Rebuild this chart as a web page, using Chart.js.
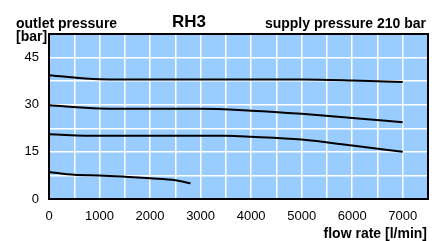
<!DOCTYPE html>
<html>
<head>
    <script src="https://cdn.jsdelivr.net/npm/chart.js@4.4.1/dist/chart.umd.min.js"></script>
    <style>
        body { margin: 0; background: #fff; }
        #wrap { width: 443px; height: 241px; }
    </style>
</head>
<body>
<div id="wrap"><canvas id="myChart" width="443" height="241"></canvas></div>

<script>
    // flow rate [l/min] -> outlet pressure [bar]
    const flowTop = [0, 1000, 2000, 3000, 4000, 5000, 6000, 7000];
    const pressTop = [39.4, 38.1, 38.0, 38.0, 38.0, 38.0, 37.7, 37.2];

    const flowUpper = [0, 1000, 2000, 3000, 4000, 5000, 6000, 7000];
    const pressUpper = [29.8, 28.8, 28.7, 28.7, 28.1, 27.1, 25.8, 24.4];

    const flowLower = [0, 1000, 2000, 3000, 3500, 4000, 5000, 6000, 7000];
    const pressLower = [20.6, 20.1, 20.1, 20.1, 20.1, 19.8, 18.9, 17.0, 15.0];

    const flowBottom = [0, 500, 1000, 1500, 2000, 2500, 2800];
    const pressBottom = [8.6, 7.7, 7.5, 7.1, 6.6, 6.0, 5.0];

    const xTicks = [0, 1000, 2000, 3000, 4000, 5000, 6000, 7000];
    const yTicks = [0, 15, 30, 45];

    const FONT = "'Liberation Sans', Arial, Helvetica, sans-serif";

    function pts(xs, ys) {
        return xs.map((x, i) => ({x: x, y: ys[i]}));
    }

    function curve(xs, ys) {
        return {
            data: pts(xs, ys),
            borderColor: "#000",
            borderWidth: 2,
            pointRadius: 0,
            cubicInterpolationMode: "monotone",
            fill: false
        };
    }

    const plotFrame = {
        id: "plotFrame",
        beforeDraw(chart) {
            const a = chart.chartArea, ctx = chart.ctx;
            ctx.save();
            ctx.fillStyle = "#99ccff";
            ctx.fillRect(a.left, a.top, a.right - a.left, a.bottom - a.top);
            ctx.restore();
        },
        afterDraw(chart) {
            const a = chart.chartArea, ctx = chart.ctx;
            ctx.save();
            ctx.strokeStyle = "#000";
            ctx.lineWidth = 2;
            ctx.strokeRect(a.left, a.top, a.right - a.left, a.bottom - a.top);

            ctx.fillStyle = "#000";
            ctx.textBaseline = "alphabetic";
            ctx.font = "bold 14px " + FONT;
            ctx.textAlign = "left";
            ctx.fillText("outlet pressure", 16, 28);
            ctx.fillText("[bar]", 16, 41);
            ctx.textAlign = "right";
            ctx.fillText("supply pressure 210 bar", 426, 28);
            ctx.fillText("flow rate [l/min]", 427, 238);
            ctx.font = "bold 17px " + FONT;
            ctx.textAlign = "center";
            ctx.fillText("RH3", 189, 27);
            ctx.restore();
        }
    };

    new Chart("myChart", {
        type: "line",
        data: {
            datasets: [
                curve(flowTop, pressTop),
                curve(flowUpper, pressUpper),
                curve(flowLower, pressLower),
                curve(flowBottom, pressBottom)
            ]
        },
        options: {
            responsive: false,
            animation: false,
            layout: {padding: {left: 0, right: 15, top: 34, bottom: 0}},
            plugins: {
                legend: {display: false},
                tooltip: {enabled: false}
            },
            scales: {
                x: {
                    type: "linear",
                    min: 0,
                    max: 7500,
                    ticks: {
                        stepSize: 500,
                        padding: 10,
                        color: "#000",
                        font: {family: FONT, size: 13},
                        maxRotation: 0,
                        autoSkip: false,
                        callback: v => xTicks.includes(v) ? String(v) : ""
                    },
                    grid: {color: "#fff", lineWidth: 1.5, drawTicks: false},
                    border: {display: false},
                    afterFit: s => { s.height = 42; }
                },
                y: {
                    min: 0,
                    max: 52.5,
                    ticks: {
                        stepSize: 7.5,
                        padding: 10,
                        color: "#000",
                        font: {family: FONT, size: 13},
                        autoSkip: false,
                        callback: v => yTicks.includes(v) ? String(v) : ""
                    },
                    grid: {color: "#fff", lineWidth: 1.5, drawTicks: false},
                    border: {display: false},
                    afterFit: s => { s.width = 49; }
                }
            }
        },
        plugins: [plotFrame]
    });
</script>
</body>
</html>
